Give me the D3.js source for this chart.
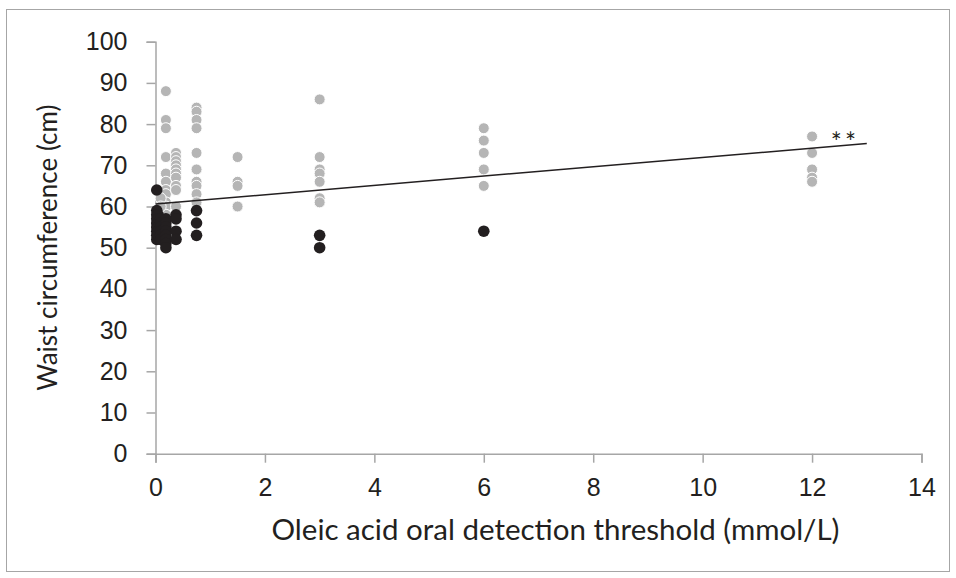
<!DOCTYPE html>
<html>
<head>
<meta charset="utf-8">
<script src="https://cdn.jsdelivr.net/npm/d3@7"></script>
<style>
  html, body { margin: 0; padding: 0; background: #fff; }
  svg { display: block; font-family: Lato, "Open Sans", sans-serif; }
</style>
</head>
<body>
<svg id="chart" width="956" height="578"></svg>
<script>
// ---- data ----
const xTicks = [0, 2, 4, 6, 8, 10, 12, 14];
const yTicks = [0, 10, 20, 30, 40, 50, 60, 70, 80, 90, 100];

// grey points (x = threshold, y = waist)
const greyX = [
  0.19,0.19,0.19,0.19,0.19,0.19,0.19,0.19,0.19,0.19,0.19,
  0.094,0.094,
  0.375,0.375,0.375,0.375,0.375,0.375,0.375,0.375,0.375,0.375,
  0.75,0.75,0.75,0.75,0.75,0.75,0.75,0.75,0.75,0.75,
  1.5,1.5,1.5,1.5,
  3,3,3,3,3,3,3,
  6,6,6,6,6,
  12,12,12,12,12
];
const greyY = [
  88,81,79,72,68,66,64,63,61,60,58,
  62,60,
  73,72,71,70,69,68,67,65,64,60,
  84,83,81,79,73,69,66,65,63,61,
  72,66,65,60,
  86,72,69,68,66,62,61,
  79,76,73,69,65,
  77,73,69,67,66
];

// black points
const blackX = [
  0.023,0.023,0.023,0.023,0.023,0.023,0.023,0.023,0.023,
  0.047,0.047,0.047,0.047,0.047,0.047,
  0.094,0.094,0.094,0.094,0.094,0.094,
  0.19,0.19,0.19,0.19,0.19,0.19,0.19,0.19,
  0.375,0.375,0.375,0.375,
  0.75,0.75,0.75,
  3,3,
  6
];
const blackY = [
  64,59,58,57,56,55,54,53,52,
  58,57,56,55,54,53,
  57,56,55,54,53,52,
  57,56,55,54,53,52,51,50,
  58,57,54,52,
  59,56,53,
  53,50,
  54
];

// trend line end points
const trendX = [0, 13];
const trendY = [60.6, 75.3];

const xTitle = "Oleic acid oral detection threshold (mmol/L)";
const yTitle = "Waist circumference (cm)";
const sigLabel = "**";

// ---- drawing ----
const svg = d3.select("#chart");
const W = 956, H = 578;
const m = { left: 155.5, right: 956 - 921.5, top: 41.7, bottom: 578 - 453.7 };

// outer frame
svg.append("rect")
  .attr("x", 6.5).attr("y", 9.5)
  .attr("width", 943).attr("height", 562)
  .attr("fill", "#fff").attr("stroke", "#a6a6a6").attr("stroke-width", 1);

const x = d3.scaleLinear().domain([0, 14]).range([m.left, W - m.right]);
const y = d3.scaleLinear().domain([0, 100]).range([H - m.bottom, m.top]);

const axisColor = "#a6a6a6";
const textColor = "#231f20";

// y axis
const gy = svg.append("g")
  .attr("transform", `translate(${m.left},0)`)
  .call(d3.axisLeft(y).tickValues(yTicks).tickSize(9).tickPadding(19).tickFormat(d3.format("d")));
gy.select(".domain").attr("stroke", axisColor).attr("stroke-width", 1.5);
gy.selectAll(".tick line").attr("stroke", axisColor).attr("stroke-width", 1.5);
gy.selectAll(".tick text").attr("fill", textColor).style("font-size", "25px");

// x axis
const gx = svg.append("g")
  .attr("transform", `translate(0,${H - m.bottom})`)
  .call(d3.axisBottom(x).tickValues(xTicks).tickSize(9).tickPadding(16).tickFormat(d3.format("d")));
gx.select(".domain").attr("stroke", axisColor).attr("stroke-width", 1.5);
gx.selectAll(".tick line").attr("stroke", axisColor).attr("stroke-width", 1.5);
gx.selectAll(".tick text").attr("fill", textColor).style("font-size", "25px");

// titles
svg.append("text")
  .attr("x", (m.left + W - m.right) / 2 + 17)
  .attr("y", 540)
  .attr("text-anchor", "middle")
  .attr("fill", textColor)
  .style("font-size", "29.5px")
  .text(xTitle);

svg.append("text")
  .attr("transform", `translate(57,${(m.top + H - m.bottom) / 2}) rotate(-90)`)
  .attr("text-anchor", "middle")
  .attr("fill", textColor)
  .style("font-size", "26px")
  .text(yTitle);

// grey points
const greyPts = greyX.map((v, i) => [v, greyY[i]]);
svg.append("g").selectAll("circle").data(greyPts).join("circle")
  .attr("cx", d => x(d[0])).attr("cy", d => y(d[1]))
  .attr("r", 5.5)
  .attr("fill", "#b5b5b5").attr("stroke", "#fff").attr("stroke-width", 1);

// black points
const blackPts = blackX.map((v, i) => [v, blackY[i]]);
svg.append("g").selectAll("circle").data(blackPts).join("circle")
  .attr("cx", d => x(d[0])).attr("cy", d => y(d[1]))
  .attr("r", 5.8)
  .attr("fill", "#231f20");

// trend line
const line = d3.line().x(d => x(d[0])).y(d => y(d[1]));
svg.append("path")
  .datum(trendX.map((v, i) => [v, trendY[i]]))
  .attr("d", line)
  .attr("fill", "none").attr("stroke", "#231f20").attr("stroke-width", 1.5);

// significance label
svg.append("text")
  .attr("x", x(12.6)).attr("y", y(75.3) + 9)
  .attr("text-anchor", "middle")
  .attr("fill", textColor)
  .style("font-size", "26px")
  .style("letter-spacing", "3px")
  .text(sigLabel);
</script>
</body>
</html>
